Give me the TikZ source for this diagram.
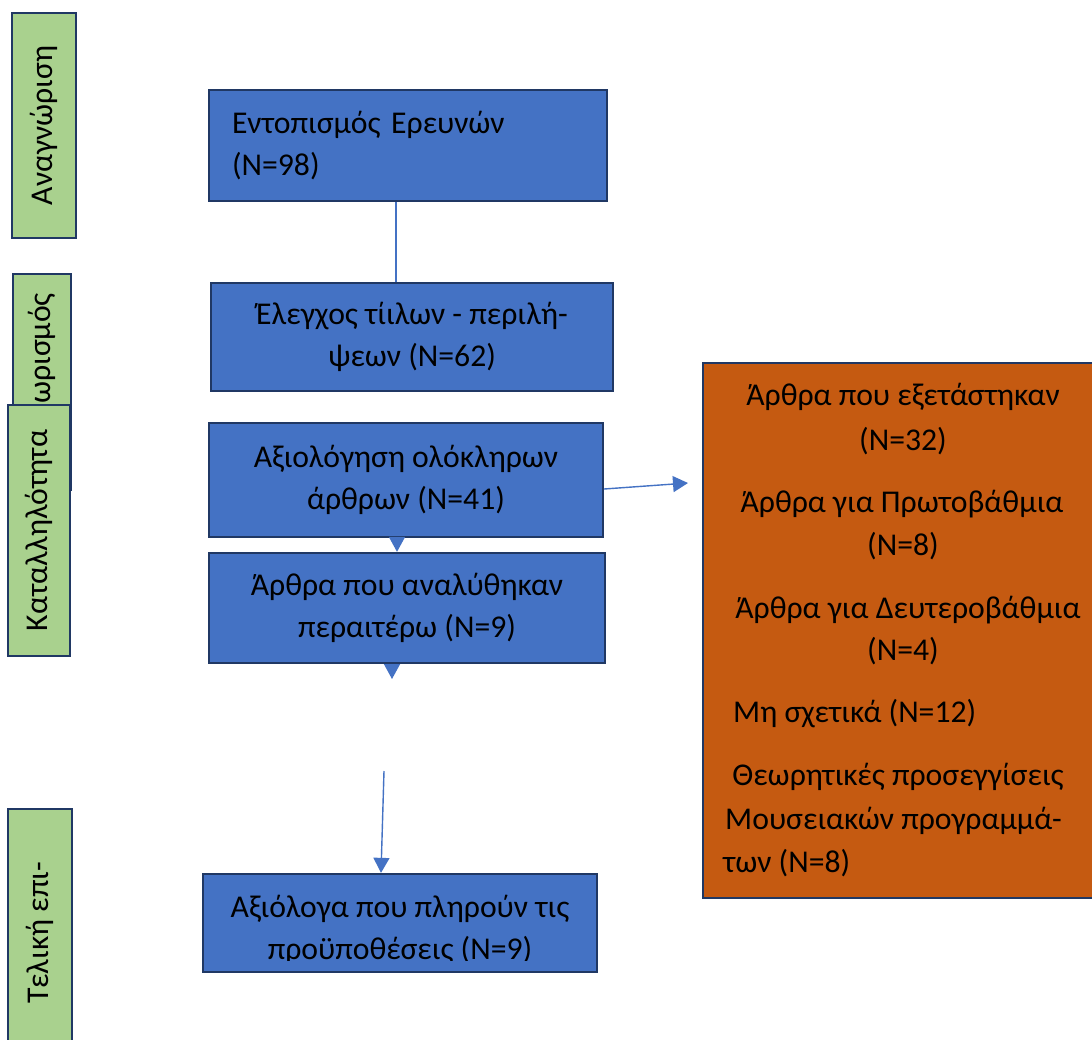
\documentclass[tikz,border=0pt]{standalone}
\usepackage{fontspec}
\setmainfont{Carlito}
\usetikzlibrary{arrows.meta}
\definecolor{bluefill}{HTML}{4472C4}
\definecolor{navy}{HTML}{203864}
\definecolor{greenfill}{HTML}{A9D18E}
\definecolor{orangefill}{HTML}{C55A11}
\definecolor{linkblue}{HTML}{4472C4}
\begin{document}
\begin{tikzpicture}[x=1pt,y=-1pt,
  txt/.style={font=\fontsize{31.7}{42}\selectfont, text=black},
  bluebox/.style={txt, draw=navy, line width=2.3pt, fill=bluefill, rectangle, inner sep=0pt, align=center},
  greenbox/.style={txt, draw=navy, line width=2.6pt, fill=greenfill, rectangle, inner sep=0pt, rotate=90},
  orangebox/.style={draw=navy, line width=2pt, fill=orangefill, rectangle, inner sep=0pt},
  conn/.style={draw=linkblue, line width=1.4pt},
  arr/.style={conn, -{Triangle[length=15pt,width=16pt]}},
  otext/.style={txt, inner sep=0pt, anchor=base},
  otextl/.style={txt, inner sep=0pt, anchor=base west}
]
\useasboundingbox (0,0) rectangle (1092,1039);
\clip (0,0) rectangle (1092,1039);
\fill[white] (0,0) rectangle (1092,1039);

% stage labels
\node[greenbox, minimum width=225pt, minimum height=64pt] (gA) at (44,125.5) {Αναγνώριση};
\node[greenbox, minimum width=216pt, minimum height=58pt] (gB) at (42,382) {};
\node[txt, rotate=90, anchor=west, inner sep=0pt] (gBt) at (42,404) {ωρισμός};
\node[greenbox, minimum width=251pt, minimum height=62pt] (gC) at (39,530.5) {Καταλληλότητα};
\node[greenbox, minimum width=248pt, minimum height=64pt] (gD) at (40,933) {Τελική επι-};

% flow boxes
\node[bluebox, align=left, text width=352pt, inner xsep=23pt, minimum height=111pt] (b1) at (408,145.5) {Εντοπισμός Ερευνών\\(N=98)};
\node[bluebox, minimum width=402pt, minimum height=108pt] (b2) at (412,337) {Έλεγχος τίιλων - περιλή-\\ψεων (N=62)};
\node[bluebox, minimum width=394pt, minimum height=114pt] (b3) at (406,480) {Αξιολόγηση ολόκληρων\\άρθρων (N=41)};
\node[bluebox, minimum width=396pt, minimum height=110pt] (b4) at (407,608) {Άρθρα που αναλύθηκαν\\περαιτέρω (N=9)};
\node[bluebox, minimum width=394pt, minimum height=98pt] (b5) at (400,923) {};
\begin{scope}
\clip (203,874) rectangle (597,960);
\node[txt, align=center, inner sep=0pt] (b5t) at (400,930) {Αξιόλογα που πληρούν τις\\προϋποθέσεις (N=9)};
\end{scope}

% results box
\node[orangebox, minimum width=397pt, minimum height=535pt] (res) at (901.5,630.5) {};
\node[otext] (r1) at (903,405) {Άρθρα που εξετάστηκαν};
\node[otext] (r2) at (903,450) {(N=32)};
\node[otext] (r3) at (902,512) {Άρθρα για Πρωτοβάθμια};
\node[otext] (r4) at (903,555) {(N=8)};
\node[otext] (r5) at (908,618) {Άρθρα για Δευτεροβάθμια};
\node[otext] (r6) at (903,660) {(N=4)};
\node[otextl] (r7) at (733,722) {Μη σχετικά (N=12)};
\node[otext] (r8) at (898,785) {Θεωρητικές προσεγγίσεις};
\node[otextl] (r9) at (725,829) {Μουσειακών προγραμμά-};
\node[otextl] (r10) at (723,872) {των (N=8)};

% free ends
\coordinate (tipR) at (688,483);
\coordinate (tipD) at (392,679);
\coordinate (fromTop) at (384,771);

% connectors
\draw[conn] ([xshift=-12pt]b1.south) -- ([xshift=-16pt]b2.north);
\draw[arr] ([xshift=-9pt]b3.south) -- ([xshift=-10pt]b4.north);
\draw[arr] ([yshift=-9pt]b3.east) -- (tipR);
\draw[arr] ([xshift=-15pt]b4.south) -- (tipD);
\draw[arr] (fromTop) -- ([xshift=-19pt]b5.north);
\end{tikzpicture}
\end{document}
